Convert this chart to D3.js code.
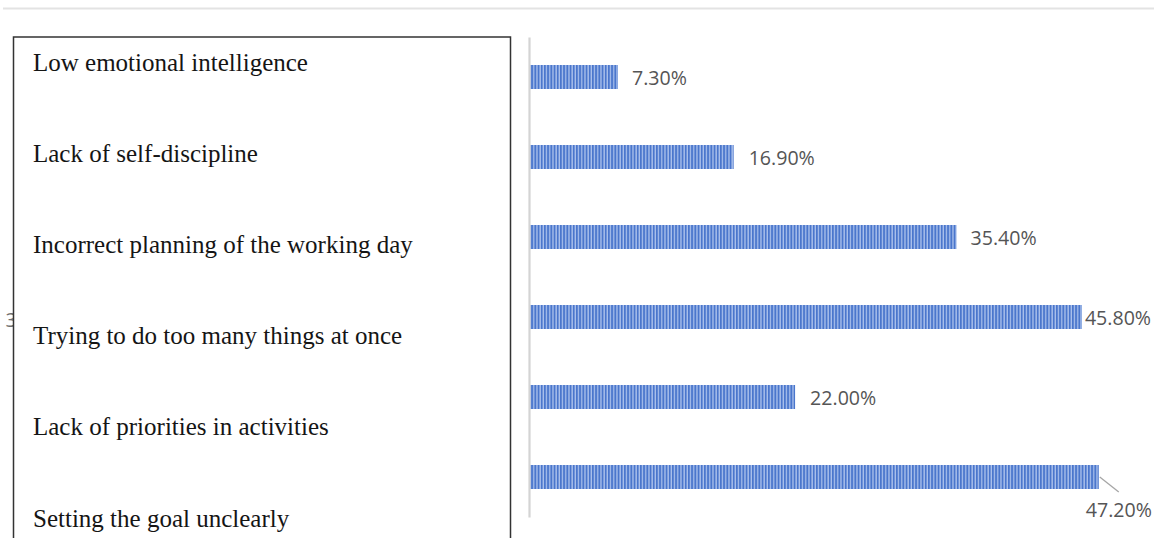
<!DOCTYPE html>
<html>
<head>
<meta charset="utf-8">
<script src="https://cdn.jsdelivr.net/npm/d3@7"></script>
<style>
  html, body { margin: 0; padding: 0; background: #fff; }
  svg { display: block; }
</style>
</head>
<body>
<svg id="chart" width="1154" height="538"></svg>
<script>
// Reasons for poor time management (share of respondents)
const categories = [
  "Low emotional intelligence",
  "Lack of self-discipline",
  "Incorrect planning of the working day",
  "Trying to do too many things at once",
  "Lack of priorities in activities",
  "Setting the goal unclearly"
];
const values = [7.3, 16.9, 35.4, 45.8, 22.0, 47.2];
const valueLabels = ["7.30%", "16.90%", "35.40%", "45.80%", "22.00%", "47.20%"];

const svg = d3.select("#chart");

// thin rule across the top
svg.append("line")
  .attr("x1", 3).attr("x2", 1154).attr("y1", 8.5).attr("y2", 8.5)
  .attr("stroke", "#e3e3e3").attr("stroke-width", 2);

// striped fill for the bars
const defs = svg.append("defs");
const pat = defs.append("pattern")
  .attr("id", "stripes").attr("patternUnits", "userSpaceOnUse")
  .attr("width", 3.2).attr("height", 10);
pat.append("rect").attr("width", 3.2).attr("height", 10).attr("fill", "#4a76cc");
pat.append("rect").attr("x", 1.9).attr("width", 1.3).attr("height", 10).attr("fill", "#adc3ec");

// scales
const x = d3.scaleLinear().domain([0, 50]).range([530, 1132.5]);
const y = d3.scaleBand().domain(categories).range([37, 517]).paddingInner(0.7).paddingOuter(0.35);

// hidden axis tick behind the category box
svg.append("text")
  .attr("x", 17).attr("y", 319)
  .attr("text-anchor", "end").attr("dominant-baseline", "central")
  .attr("font-family", "Open Sans").attr("font-size", 20).attr("fill", "#6f6f6f")
  .text("3");

// category box with serif labels
svg.append("rect")
  .attr("x", 13.5).attr("y", 37).attr("width", 497).attr("height", 520)
  .attr("fill", "#fff").attr("stroke", "#333").attr("stroke-width", 1.5);

const ly = d3.scalePoint().domain(categories).range([62, 518]);
svg.append("g").selectAll("text").data(categories).join("text")
  .attr("x", 33).attr("y", d => ly(d))
  .attr("dominant-baseline", "central")
  .attr("font-family", "Liberation Serif, Times New Roman, serif")
  .attr("font-size", 25).attr("fill", "#151515")
  .text(d => d);

// bars
svg.append("g").selectAll("rect").data(categories).join("rect")
  .attr("x", x(0))
  .attr("y", d => y(d))
  .attr("width", (d, i) => x(values[i]) - x(0))
  .attr("height", y.bandwidth())
  .attr("fill", "url(#stripes)");

// vertical axis line
const axis = svg.append("g").attr("transform", `translate(${x(0) - 1},0)`)
  .call(d3.axisLeft(y).tickSize(0).tickFormat(""));
axis.select(".domain").attr("stroke", "#d4d4d4").attr("stroke-width", 2.2);

// value labels
const labelStyle = sel => sel
  .attr("font-family", "Open Sans, sans-serif")
  .attr("font-size", 19.6).attr("fill", "#555");

const offsets = [14, 15, 14, 3, 15, null];
svg.append("g").selectAll("text").data(categories.slice(0, 5)).join("text")
  .attr("x", (d, i) => x(values[i]) + offsets[i])
  .attr("y", d => y(d) + y.bandwidth() / 2)
  .attr("dominant-baseline", "central")
  .call(labelStyle)
  .text((d, i) => valueLabels[i]);

// last label sits below its bar with a leader line
const last = categories.length - 1;
const lx = x(values[last]);
const lyMid = y(categories[last]) + y.bandwidth() / 2;
svg.append("line")
  .attr("x1", lx + 1).attr("y1", lyMid)
  .attr("x2", lx + 20).attr("y2", lyMid + 15)
  .attr("stroke", "#a6a6a6").attr("stroke-width", 1.3);
svg.append("text")
  .attr("x", lx - 13).attr("y", lyMid + 32)
  .attr("dominant-baseline", "central")
  .call(labelStyle)
  .text(valueLabels[last]);
</script>
</body>
</html>
